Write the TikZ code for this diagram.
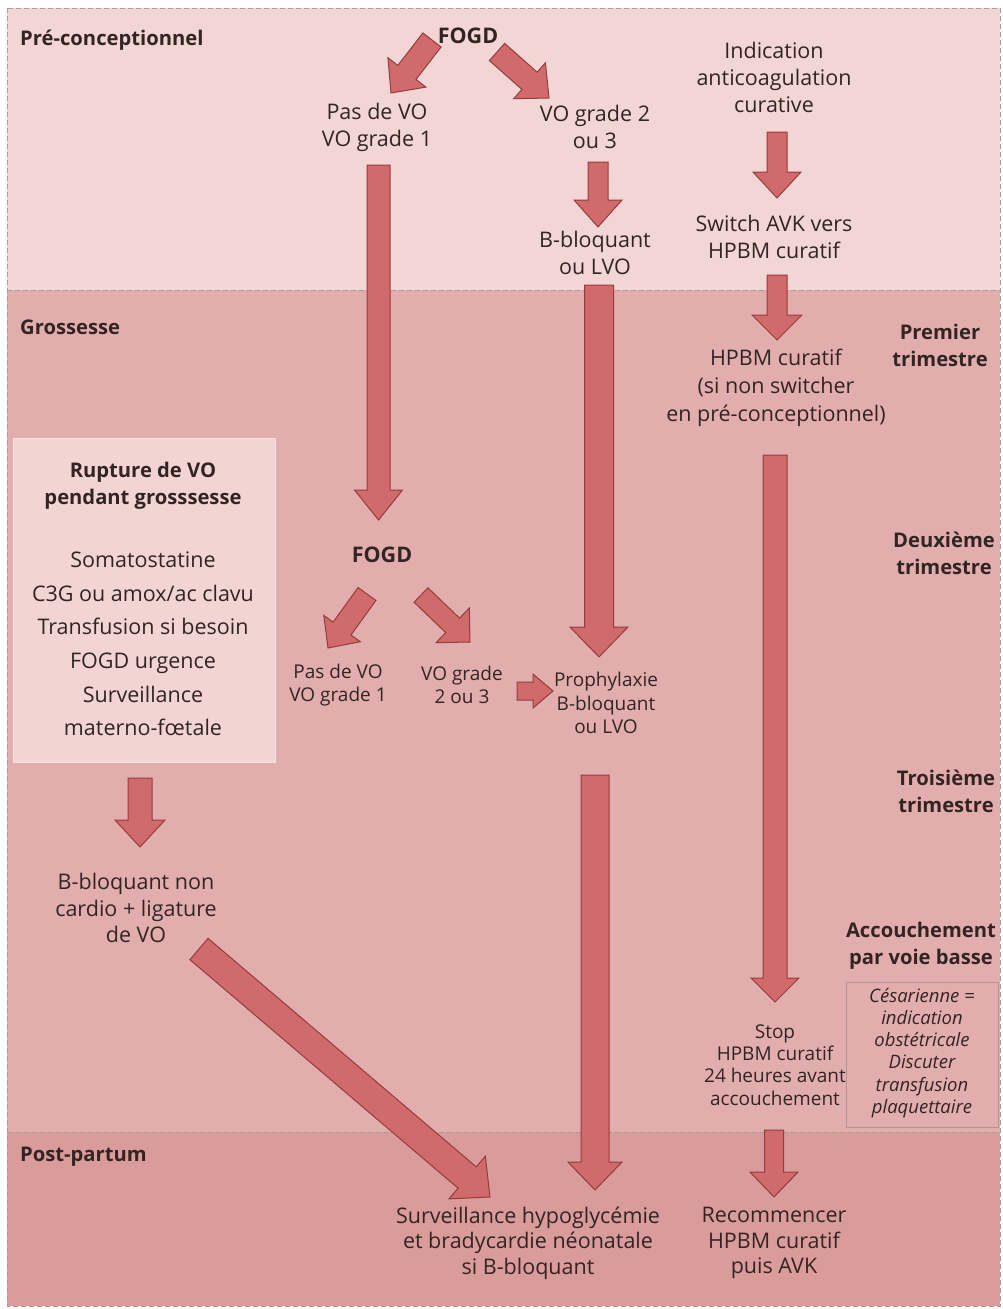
\documentclass[tikz,border=0pt]{standalone}
\usepackage{fontspec}
\setmainfont{Open Sans}
\usetikzlibrary{calc}
\definecolor{bandA}{HTML}{F2D6D5}
\definecolor{bandB}{HTML}{E2AEAD}
\definecolor{bandC}{HTML}{DA9C9B}
\definecolor{arrfill}{HTML}{D06A6B}
\definecolor{arrline}{HTML}{963B3C}
\definecolor{txtcol}{HTML}{332424}
\definecolor{sepcol}{HTML}{A89A9A}
\definecolor{ruptfill}{HTML}{F2D4D3}
\definecolor{ruptline}{HTML}{F7E2E1}
\definecolor{cesline}{HTML}{B09595}
\tikzset{
  blockarrow/.style={fill=arrfill, draw=arrline, line width=1pt, line join=miter},
  txt/.style={align=center, text=txtcol, inner sep=0pt, font=\fontsize{21.5}{27}\selectfont},
  smalltxt/.style={align=center, text=txtcol, inner sep=0pt, font=\fontsize{19}{23.5}\selectfont},
  boldtxt/.style={align=center, text=txtcol, inner sep=0pt, font=\bfseries\fontsize{20.2}{27}\selectfont},
  lbl/.style={text=txtcol, inner sep=0pt, align=center, font=\bfseries\fontsize{20.2}{27}\selectfont},
  sepline/.style={draw=sepcol, line width=0.8pt, dash pattern=on 5pt off 3pt},
}
\newcommand\barrow[5]{%
  \coordinate (bA) at #1; \coordinate (bB) at #2;
  \coordinate (bC) at ($(bB)!#5!(bA)$);
  \filldraw[blockarrow] ($(bA)!#3!90:(bB)$) -- ($(bC)!#3!90:(bB)$) -- ($(bC)!#4!90:(bB)$) -- (bB) -- ($(bC)!#4!-90:(bB)$) -- ($(bC)!#3!-90:(bB)$) -- ($(bA)!#3!-90:(bB)$) -- cycle;}
\begin{document}
\begin{tikzpicture}[x=1pt,y=-1pt]
\useasboundingbox (0,0) rectangle (1003,1309);
\fill[white] (0,0) rectangle (1003,1309);
% bands
\fill[bandA] (7,8) rectangle (1000,290);
\fill[bandB] (7,290) rectangle (1000,1132);
\fill[bandC] (7,1132) rectangle (1000,1306);
\draw[sepline] (7,290) -- (1000,290);
\draw[sepline] (7,1132) -- (1000,1132);
\draw[sepline] (7,8) rectangle (1000,1306);

% phase labels
\node[lbl, anchor=west] (pre) at (20,40) {Pré-conceptionnel};
\node[lbl, anchor=west] (gro) at (20,327) {Grossesse};
\node[lbl, anchor=west] (post) at (20,1157) {Post-partum};
\node[lbl] (t1) at (940,345) {Premier\\trimestre};
\node[lbl] (t2) at (944,553) {Deuxième\\trimestre};
\node[lbl] (t3) at (946,791) {Troisième\\trimestre};
\node[lbl] (acc) at (921,946) {Accouchement\\par voie basse};

% cesarienne box
\draw[cesline, line width=0.8pt] (846,982) rectangle (998,1127);
\node[align=center, text=txtcol, inner sep=0pt, font=\itshape\fontsize{18.5}{22.2}\selectfont] (ces) at (922,1053) {Césarienne =\\indication\\obstétricale\\Discuter\\transfusion\\plaquettaire};

% rupture box
\filldraw[fill=ruptfill, draw=ruptline, line width=1pt] (13,438) rectangle (275,762);
\node[boldtxt] (rtitle) at (143,486) {Rupture de VO\\pendant grosssesse};
\node[align=center, text=txtcol, inner sep=0pt, font=\fontsize{21.5}{33.6}\selectfont] (ritems) at (143,644) {Somatostatine\\C3G ou amox/ac clavu\\Transfusion si besoin\\FOGD urgence\\Surveillance\\materno-fœtale};

% text nodes
\node[boldtxt, font=\bfseries\fontsize{21.5}{27}\selectfont] (fogd1) at (468,36) {FOGD};
\node[txt] (pasvo1) at (377,127) {Pas de VO\\VO grade 1};
\node[txt] (vo23a) at (595,127) {VO grade 2\\ou 3};
\node[txt] (indic) at (774,77) {Indication\\anticoagulation\\curative};
\node[txt] (bbloq1) at (595,253) {B-bloquant\\ou LVO};
\node[txt] (switch) at (774,237) {Switch AVK vers\\HPBM curatif};
\node[txt, font=\fontsize{21.5}{28}\selectfont] (hpbm1) at (776,388) {HPBM curatif\\(si non switcher\\en pré-conceptionnel)};
\node[boldtxt, font=\bfseries\fontsize{21.5}{27}\selectfont] (fogd2) at (382,555) {FOGD};
\node[smalltxt] (pasvo2) at (338,685) {Pas de VO\\VO grade 1};
\node[smalltxt] (vo23b) at (462,685) {VO grade\\2 ou 3};
\node[smalltxt] (proph) at (606,703) {Prophylaxie\\B-bloquant\\ou LVO};
\node[txt, font=\fontsize{21.5}{26.5}\selectfont] (bbnc) at (136,908) {B-bloquant non\\cardio + ligature\\de VO};
\node[smalltxt, font=\fontsize{19}{22.2}\selectfont] (stop) at (775,1065) {Stop\\HPBM curatif\\24 heures avant\\accouchement};
\node[txt, font=\fontsize{21.5}{25.5}\selectfont] (surv) at (528,1243) {Surveillance hypoglycémie\\et bradycardie néonatale\\si B-bloquant};
\node[txt, font=\fontsize{21.5}{25.5}\selectfont] (recom) at (774,1243) {Recommencer\\HPBM curatif\\puis AVK};

% arrow end points
\coordinate (a1s) at (432,40);   \coordinate (a1e) at (391,93);
\coordinate (a2s) at (497,52);   \coordinate (a2e) at (549,98);
\coordinate (a3s) at (378.5,165); \coordinate (a3e) at (378.5,520);
\coordinate (a4s) at (598,162);  \coordinate (a4e) at (598,227);
\coordinate (a5s) at (777,132);  \coordinate (a5e) at (777,198);
\coordinate (a6s) at (777,275);  \coordinate (a6e) at (777,340);
\coordinate (a7s) at (599,285);  \coordinate (a7e) at (599,657);
\coordinate (a8s) at (775,455);  \coordinate (a8e) at (775,1002);
\coordinate (a9s) at (367,594);  \coordinate (a9e) at (328,648);
\coordinate (a10s) at (421,595); \coordinate (a10e) at (470,642);
\coordinate (a11s) at (517,691); \coordinate (a11e) at (553,691);
\coordinate (a12s) at (140,778); \coordinate (a12e) at (140,847);
\coordinate (a13s) at (199,949); \coordinate (a13e) at (490,1197);
\coordinate (a14s) at (595,775); \coordinate (a14e) at (595,1190);
\coordinate (a15s) at (774,1130); \coordinate (a15e) at (774,1197);

\barrow{(a1s)}{(a1e)}{11.5pt}{24pt}{26pt}
\barrow{(a2s)}{(a2e)}{11.5pt}{24pt}{26pt}
\barrow{(a3s)}{(a3e)}{11.5pt}{24pt}{30pt}
\barrow{(a4s)}{(a4e)}{10pt}{24pt}{27pt}
\barrow{(a5s)}{(a5e)}{10pt}{24pt}{26pt}
\barrow{(a6s)}{(a6e)}{10pt}{25pt}{25pt}
\barrow{(a7s)}{(a7e)}{14.5pt}{29pt}{30pt}
\barrow{(a8s)}{(a8e)}{12pt}{24pt}{24pt}
\barrow{(a9s)}{(a9e)}{11pt}{22.5pt}{24pt}
\barrow{(a10s)}{(a10e)}{10pt}{24pt}{24pt}
\barrow{(a11s)}{(a11e)}{9pt}{17pt}{20pt}
\barrow{(a12s)}{(a12e)}{12pt}{25pt}{27pt}
\barrow{(a13s)}{(a13e)}{14pt}{28pt}{30pt}
\barrow{(a14s)}{(a14e)}{14pt}{27pt}{28pt}
\barrow{(a15s)}{(a15e)}{9.5pt}{24pt}{25pt}
\end{tikzpicture}
\end{document}
